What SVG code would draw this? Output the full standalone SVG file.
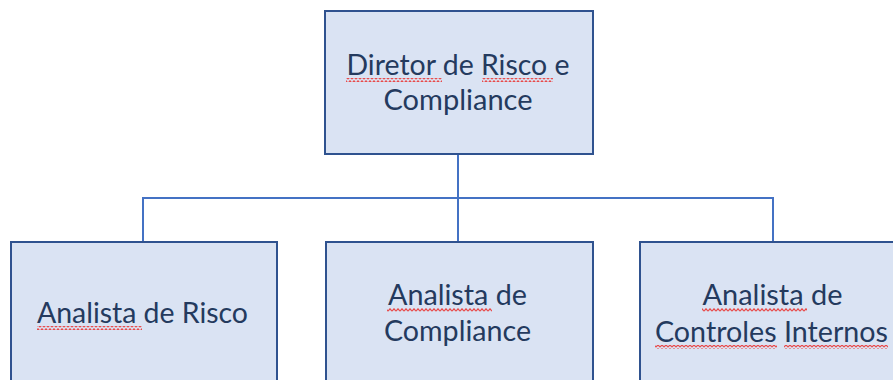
<svg xmlns="http://www.w3.org/2000/svg" width="893" height="380" viewBox="0 0 893 380">
  <style>
    .box { fill: #DAE3F3; stroke: #2F528F; stroke-width: 2; }
    .lbl { font-family: "Lato", "Liberation Sans", sans-serif; font-size: 28px; fill: #243A5E; text-anchor: middle; }
    .conn { fill: none; stroke: #4472C4; stroke-width: 2; }
    .sq { fill: url(#squig); }
  </style>
  <defs>
    <pattern id="squig" width="4" height="4" patternUnits="userSpaceOnUse">
      <path d="M0,3.2 L2,0.8 L4,3.2" fill="none" stroke="#E84A4A" stroke-width="1.2"/>
    </pattern>
  </defs>
  <rect width="893" height="380" fill="#FFFFFF"/>
  <g id="connectors">
    <path class="conn" d="M458,154 V242"/>
    <path class="conn" d="M143,242 V198 H773 V242"/>
  </g>
  <g id="diretor">
    <rect class="box" x="325" y="11" width="268" height="143"/>
    <text class="lbl" x="458" y="75" textLength="223" lengthAdjust="spacingAndGlyphs">Diretor de Risco e</text>
    <text class="lbl" x="458" y="110" textLength="149" lengthAdjust="spacingAndGlyphs">Compliance</text>
    <rect class="sq" x="346" y="78" width="96" height="4"/>
    <rect class="sq" x="482" y="78" width="71" height="4"/>
  </g>
  <g id="analista-risco">
    <rect class="box" x="11" y="242" width="266" height="150"/>
    <text class="lbl" x="142.5" y="323" textLength="211" lengthAdjust="spacingAndGlyphs">Analista de Risco</text>
    <rect class="sq" x="37" y="326" width="105" height="4"/>
  </g>
  <g id="analista-compliance">
    <rect class="box" x="326" y="242" width="267" height="150"/>
    <text class="lbl" x="457.5" y="305" textLength="139" lengthAdjust="spacingAndGlyphs">Analista de</text>
    <text class="lbl" x="457.5" y="341" textLength="147" lengthAdjust="spacingAndGlyphs">Compliance</text>
    <rect class="sq" x="387" y="308" width="105" height="4"/>
  </g>
  <g id="analista-controles">
    <rect class="box" x="640" y="242" width="267" height="150"/>
    <text class="lbl" x="772.5" y="305" textLength="140" lengthAdjust="spacingAndGlyphs">Analista de</text>
    <text class="lbl" x="771.5" y="342" textLength="233" lengthAdjust="spacingAndGlyphs">Controles Internos</text>
    <rect class="sq" x="702" y="308" width="105" height="4"/>
    <rect class="sq" x="655" y="345" width="122" height="4"/>
    <rect class="sq" x="784" y="345" width="104" height="4"/>
  </g>
</svg>
